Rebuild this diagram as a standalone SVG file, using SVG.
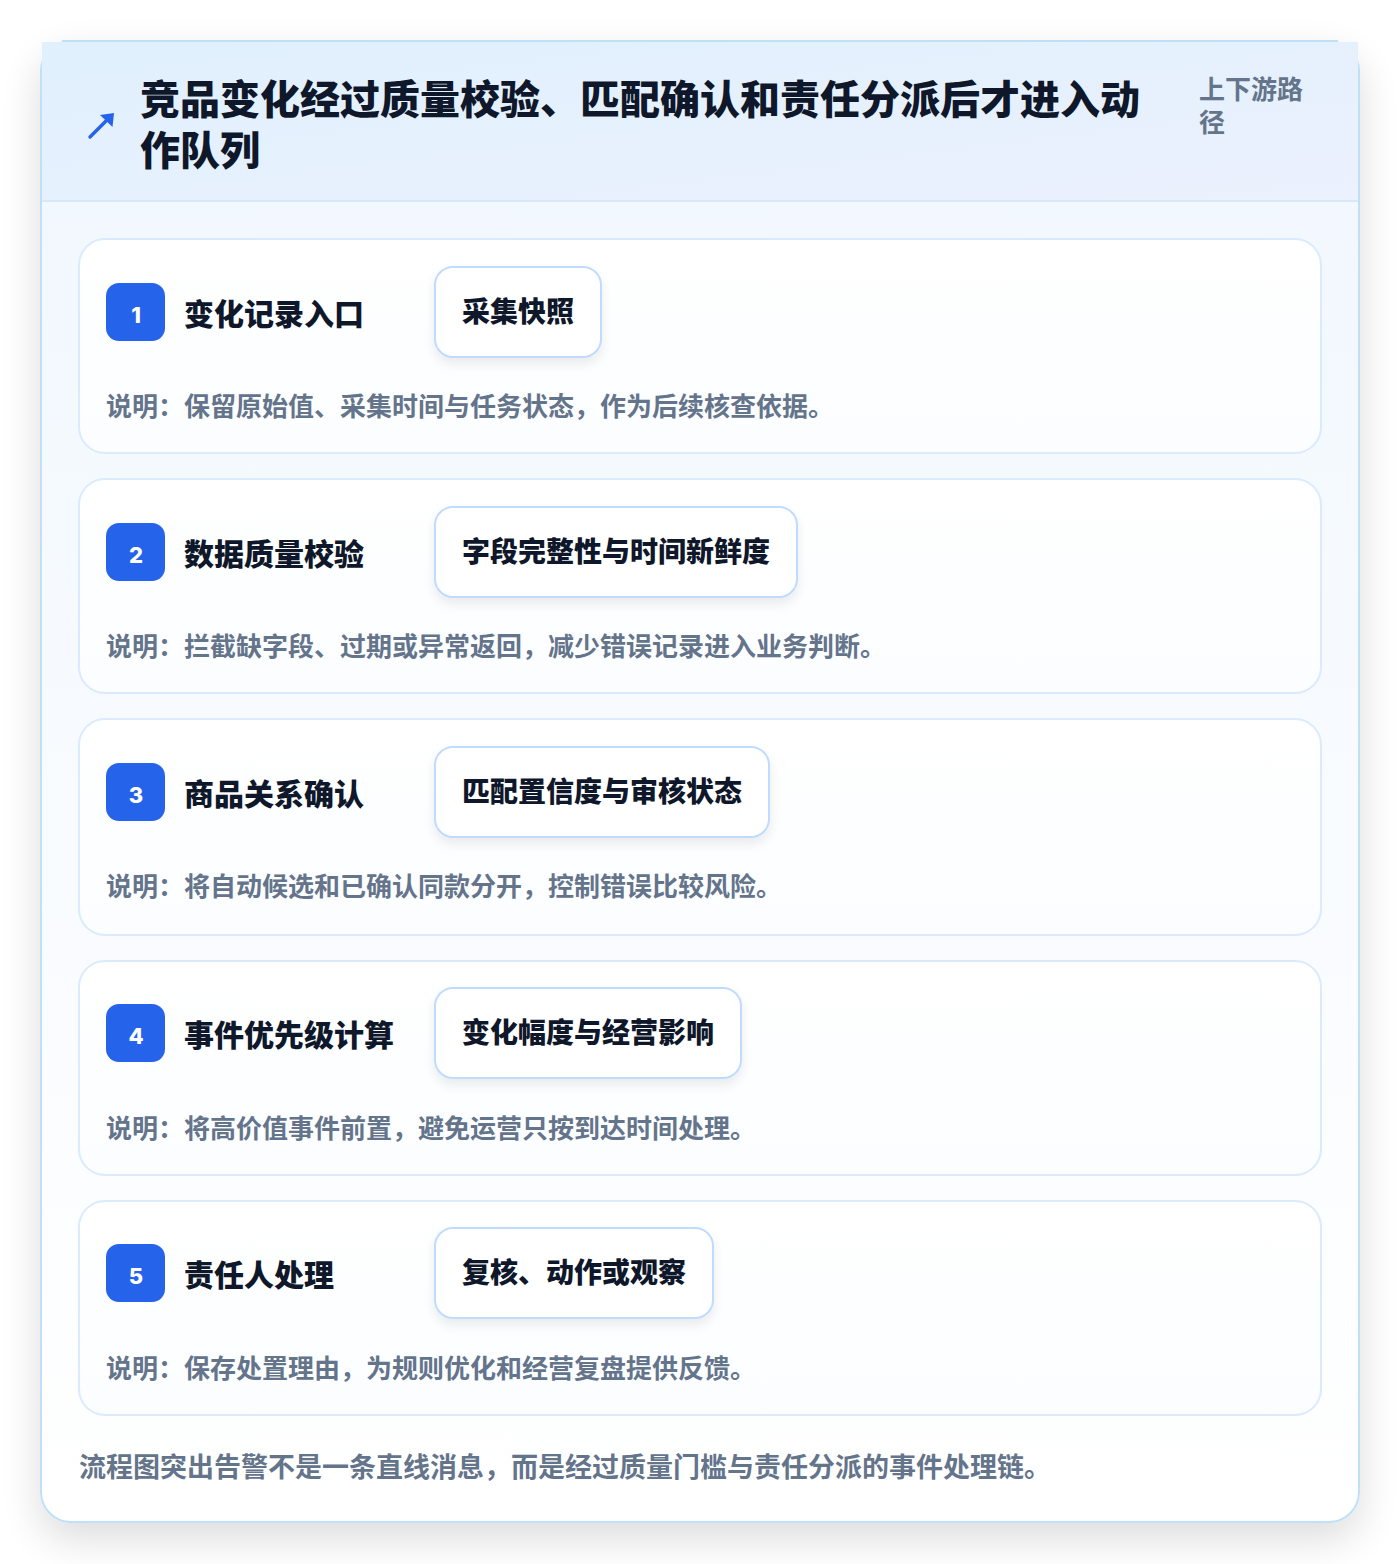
<svg xmlns="http://www.w3.org/2000/svg" width="1400" height="1564" viewBox="0 0 1400 1564">
<style>
text{font-family:"Noto Sans CJK SC","Noto Sans",sans-serif;}
.title{font-size:40px;font-weight:900;fill:#0f172a;}
.side{font-size:26px;font-weight:700;fill:#64748b;}
.card{fill:url(#cardGrad);stroke:#dbeafe;stroke-width:2;}
.badge{fill:#2563eb;}
.num{font-family:"Inter","Noto Sans",sans-serif;font-size:22px;font-weight:800;fill:#ffffff;text-anchor:middle;}
.stitle{font-size:30px;font-weight:900;fill:#0f172a;}
.pill{fill:#ffffff;stroke:#bfdbfe;stroke-width:2;filter:url(#pillShadow);}
.ptext{font-size:28px;font-weight:900;fill:#0f172a;text-anchor:middle;}
.desc{font-size:26px;font-weight:700;fill:#64748b;}
.foot{font-size:27px;font-weight:700;fill:#64748b;}
</style>
<defs>
<linearGradient id="headGrad" x1="0" y1="0" x2="1" y2="1">
<stop offset="0" stop-color="#e0f0fd"/>
<stop offset="1" stop-color="#ebf1fd"/>
</linearGradient>
<linearGradient id="bodyGrad" x1="0" y1="0" x2="0" y2="1">
<stop offset="0" stop-color="#f0f7fe"/>
<stop offset="1" stop-color="#ffffff"/>
</linearGradient>
<linearGradient id="cardGrad" x1="0" y1="0" x2="0" y2="1">
<stop offset="0" stop-color="#ffffff"/>
<stop offset="1" stop-color="#fbfdff"/>
</linearGradient>
<filter id="outerShadow" x="-10%" y="-10%" width="120%" height="120%">
<feGaussianBlur in="SourceAlpha" stdDeviation="20"/>
<feOffset dy="16"/>
<feComponentTransfer><feFuncA type="linear" slope="0.14"/></feComponentTransfer>
<feMerge><feMergeNode/><feMergeNode in="SourceGraphic"/></feMerge>
</filter>
<filter id="pillShadow" x="-20%" y="-30%" width="140%" height="170%">
<feGaussianBlur in="SourceAlpha" stdDeviation="6"/>
<feOffset dy="6"/>
<feComponentTransfer><feFuncA type="linear" slope="0.08"/></feComponentTransfer>
<feMerge><feMergeNode/><feMergeNode in="SourceGraphic"/></feMerge>
</filter>
</defs>

<rect x="0" y="0" width="1400" height="1564" fill="#ffffff"/>

<g id="frame">
<rect x="41" y="41" width="1318" height="1481" rx="30" fill="url(#bodyGrad)" stroke="#bfe0f7" stroke-width="2" filter="url(#outerShadow)"/>
<rect x="42" y="42" width="1316" height="159" fill="url(#headGrad)"/>
<line x1="42" y1="201" x2="1358" y2="201" stroke="#d6e8fa" stroke-width="2"/>
<line x1="62" y1="41" x2="1338" y2="41" stroke="#bfe0f7" stroke-width="2"/>
</g>

<g id="header">
<g id="icon">
<line x1="90" y1="137" x2="108" y2="119" stroke="#2563eb" stroke-width="3.4" stroke-linecap="round"/>
<polygon points="114,113 112.5,127 100,115" fill="#2563eb"/>
</g>
<text class="title" x="140" y="114">竞品变化经过质量校验、匹配确认和责任分派后才进入动</text>
<text class="title" x="140" y="165">作队列</text>
<text class="side" x="1199" y="99">上下游路</text>
<text class="side" x="1199" y="132">径</text>
</g>

<g id="step1">
<rect class="card" x="79" y="239" width="1242" height="214" rx="26"/>
<rect class="badge" x="106" y="283" width="59" height="58" rx="13"/>
<text class="num" x="136" y="323">1</text>
<text class="stitle" x="184" y="325">变化记录入口</text>
<rect class="pill" x="435" y="267" width="166" height="90" rx="18"/>
<text class="ptext" x="518" y="322">采集快照</text>
<text class="desc" x="106" y="416">说明：保留原始值、采集时间与任务状态，作为后续核查依据。</text>
</g>

<g id="step2">
<rect class="card" x="79" y="479" width="1242" height="214" rx="26"/>
<rect class="badge" x="106" y="523" width="59" height="58" rx="13"/>
<text class="num" x="136" y="563">2</text>
<text class="stitle" x="184" y="565">数据质量校验</text>
<rect class="pill" x="435" y="507" width="362" height="90" rx="18"/>
<text class="ptext" x="616" y="562">字段完整性与时间新鲜度</text>
<text class="desc" x="106" y="656">说明：拦截缺字段、过期或异常返回，减少错误记录进入业务判断。</text>
</g>

<g id="step3">
<rect class="card" x="79" y="719" width="1242" height="216" rx="26"/>
<rect class="badge" x="106" y="763" width="59" height="58" rx="13"/>
<text class="num" x="136" y="803">3</text>
<text class="stitle" x="184" y="805">商品关系确认</text>
<rect class="pill" x="435" y="747" width="334" height="90" rx="18"/>
<text class="ptext" x="602" y="802">匹配置信度与审核状态</text>
<text class="desc" x="106" y="896">说明：将自动候选和已确认同款分开，控制错误比较风险。</text>
</g>

<g id="step4">
<rect class="card" x="79" y="961" width="1242" height="214" rx="26"/>
<rect class="badge" x="106" y="1004" width="59" height="58" rx="13"/>
<text class="num" x="136" y="1044">4</text>
<text class="stitle" x="184" y="1046">事件优先级计算</text>
<rect class="pill" x="435" y="988" width="306" height="90" rx="18"/>
<text class="ptext" x="588" y="1043">变化幅度与经营影响</text>
<text class="desc" x="106" y="1138">说明：将高价值事件前置，避免运营只按到达时间处理。</text>
</g>

<g id="step5">
<rect class="card" x="79" y="1201" width="1242" height="214" rx="26"/>
<rect class="badge" x="106" y="1244" width="59" height="58" rx="13"/>
<text class="num" x="136" y="1284">5</text>
<text class="stitle" x="184" y="1286">责任人处理</text>
<rect class="pill" x="435" y="1228" width="278" height="90" rx="18"/>
<text class="ptext" x="574" y="1283">复核、动作或观察</text>
<text class="desc" x="106" y="1378">说明：保存处置理由，为规则优化和经营复盘提供反馈。</text>
</g>

<g id="connectors"></g>

<g id="footer">
<text class="foot" x="79" y="1477">流程图突出告警不是一条直线消息，而是经过质量门槛与责任分派的事件处理链。</text>
</g>
</svg>
